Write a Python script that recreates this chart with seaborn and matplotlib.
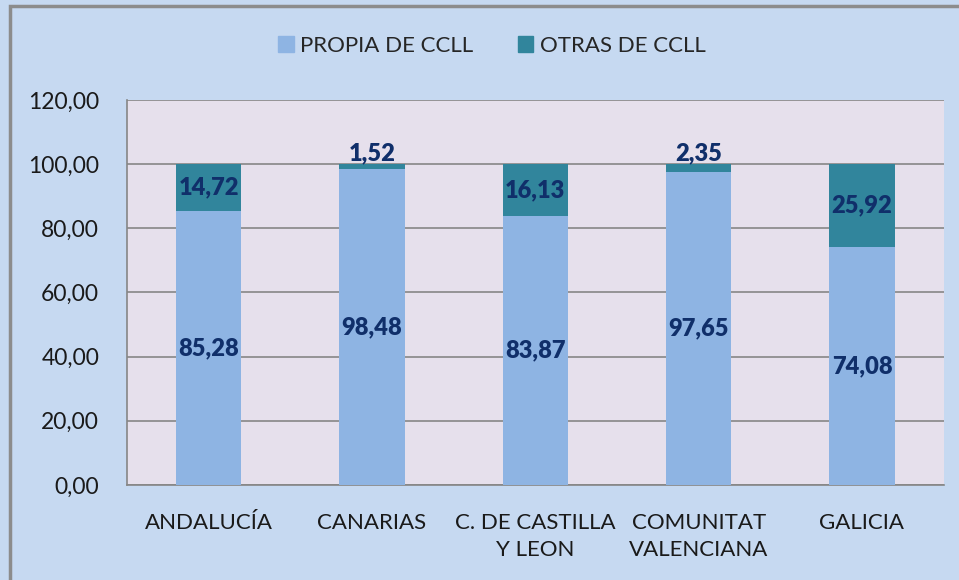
import pandas as pd
import seaborn as sns
import matplotlib.pyplot as plt
from matplotlib.patches import Patch, Rectangle
from matplotlib.ticker import FuncFormatter, FixedLocator

categorias = ['ANDALUCÍA', 'CANARIAS', 'C. DE CASTILLA\nY LEON', 'COMUNITAT\nVALENCIANA', 'GALICIA']
propia = [85.28, 98.48, 83.87, 97.65, 74.08]
otras = [14.72, 1.52, 16.13, 2.35, 25.92]

col_propia = '#8EB4E3'
col_otras = '#31859C'
col_texto = '#102F6A'

sns.set_theme(style='white')
plt.rcParams['font.family'] = ['Lato', 'DejaVu Sans']

df = pd.DataFrame({'Comunidad': categorias, 'Propia': propia, 'Otras': otras})
df['Total'] = df['Propia'] + df['Otras']

fig = plt.figure(figsize=(9.59, 5.8), dpi=100, facecolor='#C6D9F1')
ax = fig.add_axes([0.1324, 0.1638, 0.8516, 0.6638])
ax.set_facecolor('#E6E0EC')

# barras apiladas: total (otras) detras, propia delante
sns.barplot(data=df, x='Comunidad', y='Total', color=col_otras, width=0.4,
            saturation=1, linewidth=0, ax=ax, zorder=3)
sns.barplot(data=df, x='Comunidad', y='Propia', color=col_propia, width=0.4,
            saturation=1, linewidth=0, ax=ax, zorder=4)

# etiquetas de datos
for i, (p, o) in enumerate(zip(propia, otras)):
    ax.text(i, p / 2, f'{p:.2f}'.replace('.', ','), ha='center', va='center',
            fontsize=17, fontweight='heavy', color=col_texto, zorder=5)
    if o < 5:
        ax.text(i, p + o + 0.1, f'{o:.2f}'.replace('.', ','), ha='center', va='bottom',
                fontsize=17, fontweight='heavy', color=col_texto, zorder=5)
    else:
        ax.text(i, p + o / 2, f'{o:.2f}'.replace('.', ','), ha='center', va='center',
                fontsize=17, fontweight='heavy', color=col_texto, zorder=5)

ax.set_ylim(0, 120)
ax.set_xlim(-0.5, 4.5)
ax.set_yticks(range(0, 121, 20))
ax.yaxis.set_major_formatter(FuncFormatter(lambda v, _: f'{v:.2f}'.replace('.', ',')))
ax.yaxis.grid(True, color='#868686', linewidth=1.2, zorder=0)
ax.set_axisbelow(True)
ax.set_xlabel('')
ax.set_ylabel('')

ax.xaxis.set_minor_locator(FixedLocator([-0.5, 0.5, 1.5, 2.5, 3.5, 4.5]))
ax.tick_params(axis='x', which='major', length=0, pad=20, labelsize=16, colors='#1a1a1a')
ax.tick_params(axis='x', which='minor', length=8, width=1, color='#868686', direction='out')
ax.tick_params(axis='y', length=8, width=1, color='#868686', direction='out',
               labelsize=16.5, colors='#1a1a1a', pad=12)
for lbl in ax.get_xticklabels():
    lbl.set_linespacing(1.45)

for s in ['top', 'right']:
    ax.spines[s].set_visible(False)
for s in ['left', 'bottom']:
    ax.spines[s].set_color('#868686')
    ax.spines[s].set_linewidth(1.2)

handles = [Patch(color=col_propia, label='PROPIA DE CCLL'),
           Patch(color=col_otras, label='OTRAS DE CCLL')]
fig.legend(handles=handles, loc='center', bbox_to_anchor=(0.513, 0.921), ncol=2,
           frameon=False, fontsize=16, handlelength=0.7, handleheight=0.7,
           handletextpad=0.3, columnspacing=2.0)

# marco del grafico
fig.patches.append(Rectangle((10 / 959, -0.1), 1.2, 1.1 - 6 / 580, transform=fig.transFigure,
                             fill=False, edgecolor='#8C8C8C', linewidth=2.5))

fig.savefig('out.png', dpi=100, facecolor=fig.get_facecolor())
